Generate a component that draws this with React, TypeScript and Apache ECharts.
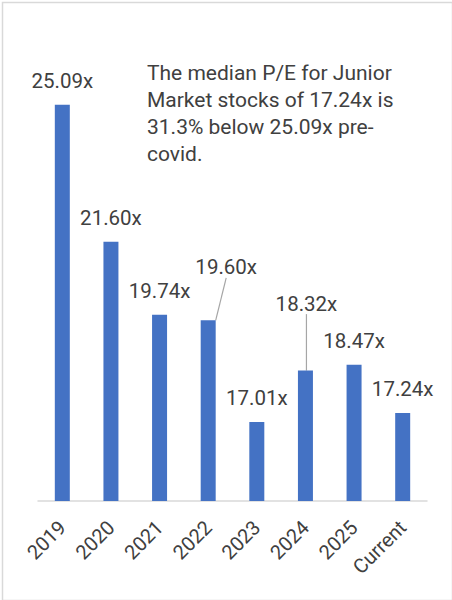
import React, { useEffect, useRef } from "react";
import * as echarts from "echarts";

const categories = ["2019", "2020", "2021", "2022", "2023", "2024", "2025", "Current"];
const peValues = [25.09, 21.6, 19.74, 19.6, 17.01, 18.32, 18.47, 17.24];
const noteLines = [
  "The median P/E for Junior",
  "Market stocks of 17.24x is",
  "31.3% below 25.09x pre-",
  "covid.",
];

const FONT = "Roboto";
const TEXT = "#404040";

export default function App() {
  const ref = useRef<HTMLDivElement>(null);
  useEffect(() => {
    if (!ref.current) return;
    const chart = echarts.init(ref.current, null, { renderer: "svg" });
    const moved: Record<number, { dx: number; dy: number }> = {
      3: { dx: 18, dy: -29 },
      5: { dx: 1, dy: -43 },
    };
    chart.setOption({
      animation: false,
      textStyle: { fontFamily: FONT },
      grid: { left: 38, right: 25, top: 69, bottom: 99, containLabel: false },
      xAxis: {
        type: "category",
        data: categories,
        axisLine: { lineStyle: { color: "#d9d9d9", width: 1.5 } },
        axisTick: { show: false },
        axisLabel: {
          rotate: 45,
          color: TEXT,
          fontSize: 20,
          fontFamily: FONT,
          margin: 23,
          interval: 0,
        },
      },
      yAxis: {
        type: "value",
        min: 15,
        max: 26,
        show: false,
        splitLine: { show: false },
      },
      series: [
        {
          type: "bar",
          barWidth: 15,
          data: peValues.map((v, i) => ({
            value: v,
            labelLine: moved[i]
              ? { show: true, lineStyle: { color: "#a6a6a6", width: 1.2 } }
              : { show: false },
          })),
          itemStyle: { color: "#4472C4" },
          label: {
            show: true,
            position: "top",
            distance: 14,
            color: TEXT,
            fontSize: 20.5,
            lineHeight: 20,
            fontFamily: FONT,
            formatter: (p: any) => p.value.toFixed(2) + "x",
          },
          labelLine: { show: false, lineStyle: { color: "#a6a6a6" } },
          labelLayout: (p: any) => moved[p.dataIndex] || {},
        },
      ],
      graphic: [
        {
          type: "rect",
          left: 0,
          top: 0,
          shape: { x: 0, y: 0, width: 450, height: 598 },
          style: { fill: "none", stroke: "#d9d9d9", lineWidth: 1.5 },
          silent: true,
        },
        {
          type: "text",
          left: 147,
          top: 59,
          style: {
            text: noteLines.join("\n"),
            fill: TEXT,
            fontSize: 21,
            lineHeight: 27,
            fontFamily: FONT,
          },
        },
      ],
    });
    return () => chart.dispose();
  }, []);
  return (
    <div
      ref={ref}
      style={{ position: "absolute", left: 0, top: 0, width: 452, height: 600, background: "#fff" }}
    />
  );
}
